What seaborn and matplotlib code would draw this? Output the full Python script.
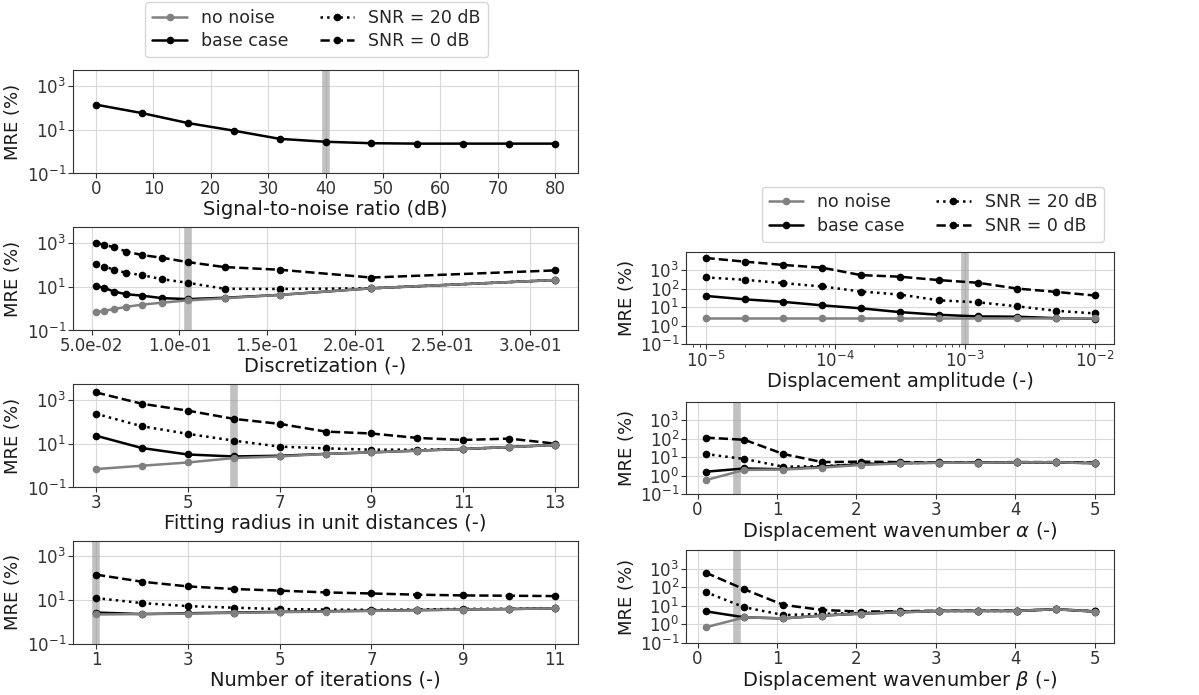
import numpy as np
import matplotlib
matplotlib.use("Agg")
import matplotlib.pyplot as plt
import seaborn as sns
from matplotlib.ticker import FixedLocator, NullLocator, LogFormatterSciNotation, FormatStrFormatter, LogLocator

# ---------------- data ----------------
series_labels = ["no noise", "base case", "SNR = 20 dB", "SNR = 0 dB"]

snr_x = [0, 8, 16, 24, 32, 40, 48, 56, 64, 72, 80]
snr_base = [138, 57, 20, 9.0, 3.8, 2.8, 2.4, 2.3, 2.3, 2.3, 2.3]
snr_ref = 40

disc_x = [0.0524, 0.0571, 0.0628, 0.0698, 0.0785, 0.0898, 0.1047, 0.1257, 0.1571, 0.2094, 0.3142]
disc_snr0 = [1000, 810, 620, 400, 277, 209, 132, 78, 59, 26, 55]
disc_snr20 = [110, 82, 60, 42, 34, 22, 15, 8.0, 7.8, 8.4, 20]
disc_base = [10.7, 8.8, 5.9, 4.5, 3.9, 3.0, 2.7, 3.1, 4.2, 8.4, 20]
disc_none = [0.67, 0.79, 0.95, 1.2, 1.5, 1.85, 2.35, 2.95, 4.2, 8.4, 20]
disc_ref = 0.1047

fit_x = [3, 4, 5, 6, 7, 8, 9, 10, 11, 12, 13]
fit_snr0 = [2170, 660, 320, 135, 80, 35.5, 29, 18.2, 14.7, 17, 10]
fit_snr20 = [230, 62, 28, 13.7, 7.3, 6.1, 5.3, 5.3, 5.6, 7.0, 8.7]
fit_base = [23, 6.3, 3.2, 2.6, 2.8, 3.4, 4.0, 4.8, 5.7, 7.0, 8.7]
fit_none = [0.69, 0.98, 1.38, 2.2, 2.6, 3.4, 4.0, 4.8, 5.7, 7.0, 8.7]
fit_ref = 6

it_x = [1, 2, 3, 4, 5, 6, 7, 8, 9, 10, 11]
it_snr0 = [145, 69, 42, 32, 27, 22.4, 20, 17.6, 16.3, 15.8, 15.2]
it_snr20 = [12.4, 7.3, 5.3, 4.5, 3.9, 3.7, 3.6, 3.7, 4.0, 4.0, 4.3]
it_base = [2.7, 2.3, 2.5, 2.7, 2.9, 3.1, 3.3, 3.5, 3.7, 3.9, 4.2]
it_none = [2.2, 2.3, 2.4, 2.6, 2.8, 3.0, 3.2, 3.4, 3.7, 3.9, 4.2]
it_ref = 1

amp_x = [1e-5, 2e-5, 3.98e-5, 7.94e-5, 1.58e-4, 3.16e-4, 6.31e-4, 1.26e-3, 2.51e-3, 5.01e-3, 1e-2]
amp_snr0 = [4500, 2840, 1880, 1340, 530, 435, 285, 205, 100, 66, 42]
amp_snr20 = [400, 297, 195, 129, 69, 47, 23, 18, 11, 6.3, 4.5]
amp_base = [40, 26, 19, 12.3, 8.5, 5.3, 3.8, 3.1, 3.0, 2.5, 2.3]
amp_none = [2.4, 2.4, 2.4, 2.4, 2.4, 2.4, 2.4, 2.4, 2.4, 2.4, 2.4]
amp_ref = 1e-3

wn_x = [0.1, 0.59, 1.08, 1.57, 2.06, 2.55, 3.04, 3.53, 4.02, 4.51, 5.0]
alpha_snr0 = [112, 85, 14.5, 5.3, 5.6, 5.3, 5.1, 5.1, 5.3, 5.3, 4.9]
alpha_snr20 = [14.5, 7.8, 3.0, 3.2, 4.1, 4.7, 4.9, 4.9, 5.1, 5.1, 4.7]
alpha_base = [1.6, 2.4, 2.2, 3.0, 4.1, 4.7, 4.9, 4.9, 5.1, 5.1, 4.7]
alpha_none = [0.56, 2.0, 2.1, 2.7, 3.7, 4.5, 4.9, 4.9, 5.1, 5.2, 4.5]
alpha_ref = 0.5

beta_snr0 = [630, 78, 11.3, 6.0, 4.9, 5.1, 5.5, 5.5, 5.5, 6.6, 5.1]
beta_snr20 = [56, 8.4, 3.2, 3.7, 4.1, 4.9, 5.3, 5.3, 5.3, 6.6, 5.1]
beta_base = [5.1, 2.4, 2.1, 3.0, 3.8, 4.5, 5.3, 5.3, 5.3, 6.6, 4.9]
beta_none = [0.69, 2.4, 2.1, 3.0, 3.8, 4.5, 5.3, 5.3, 5.3, 6.6, 4.9]
beta_ref = 0.5

# ---------------- style ----------------
sns.set_style("whitegrid", rc={
    "axes.edgecolor": "0.2",
    "axes.linewidth": 1.0,
    "grid.color": "0.85",
    "grid.linewidth": 0.9,
    "xtick.bottom": True,
    "ytick.left": True,
    "xtick.color": "0.2",
    "ytick.color": "0.2",
    "xtick.major.size": 3,
    "ytick.major.size": 3,
    "xtick.minor.size": 2,
})
plt.rcParams["font.family"] = ["DejaVu Sans"]

TICK_FS = 12
XLABEL_FS = 14
YLABEL_FS = 13
LEG_FS = 12.5

styles = {
    "SNR = 0 dB": dict(color="black", linestyle="--"),
    "SNR = 20 dB": dict(color="black", linestyle=":"),
    "base case": dict(color="black", linestyle="-"),
    "no noise": dict(color="grey", linestyle="-"),
}

fig = plt.figure(figsize=(11.99, 6.95), dpi=100)

LX, LW = 0.0609, 0.4212
RX, RW = 0.5722, 0.3570
LH, RH = 0.1482, 0.1331

handles = {}


def draw(ax, x, data, ref, xlabel, left=True, logx=False):
    ax.axvline(ref, color="0.6", alpha=0.6, lw=5.5, zorder=1)
    for name in ["SNR = 0 dB", "SNR = 20 dB", "base case", "no noise"]:
        if name not in data:
            continue
        st = styles[name]
        sns.lineplot(x=x, y=data[name], ax=ax, color=st["color"], linestyle=st["linestyle"],
                     marker="o", markersize=5.5, markeredgewidth=0, lw=1.8, zorder=3)
        handles[name] = ax.lines[-1]
    ax.set_yscale("log")
    if logx:
        ax.set_xscale("log")
        ax.xaxis.set_major_locator(FixedLocator([1e-5, 1e-4, 1e-3, 1e-2]))
        ax.xaxis.set_minor_locator(LogLocator(base=10, subs=np.arange(2, 10)))
        ax.tick_params(axis="x", which="minor", bottom=True, length=2, color="0.2")
        ax.grid(False, which="minor")
    if left:
        ax.set_ylim(0.1, 5000)
        ax.yaxis.set_major_locator(FixedLocator([0.1, 10, 1000]))
    else:
        ax.set_ylim(0.1, 10000)
        ax.yaxis.set_major_locator(FixedLocator([0.1, 1, 10, 100, 1000]))
    ax.yaxis.set_major_formatter(LogFormatterSciNotation())
    ax.yaxis.set_minor_locator(NullLocator())
    ax.set_xlabel(xlabel, fontsize=XLABEL_FS, color="0.1", labelpad=1)
    ax.set_ylabel("MRE (%)", fontsize=YLABEL_FS, color="0.1", labelpad=3)
    ax.tick_params(labelsize=TICK_FS, pad=1.5)


ax1 = fig.add_axes([LX, 0.7504, LW, LH])
draw(ax1, snr_x, {"base case": snr_base}, snr_ref, "Signal-to-noise ratio (dB)")
ax1.xaxis.set_major_locator(FixedLocator([0, 10, 20, 30, 40, 50, 60, 70, 80]))

ax2 = fig.add_axes([LX, 0.5245, LW, LH])
draw(ax2, disc_x, {"SNR = 0 dB": disc_snr0, "SNR = 20 dB": disc_snr20,
                   "base case": disc_base, "no noise": disc_none}, disc_ref, "Discretization (-)")
ax2.xaxis.set_major_locator(FixedLocator([0.05, 0.10, 0.15, 0.20, 0.25, 0.30]))
ax2.xaxis.set_major_formatter(FormatStrFormatter("%.1e"))
h_all = dict(handles)

ax3 = fig.add_axes([LX, 0.2986, LW, LH])
draw(ax3, fit_x, {"SNR = 0 dB": fit_snr0, "SNR = 20 dB": fit_snr20,
                  "base case": fit_base, "no noise": fit_none}, fit_ref, "Fitting radius in unit distances (-)")
ax3.xaxis.set_major_locator(FixedLocator([3, 5, 7, 9, 11, 13]))

ax4 = fig.add_axes([LX, 0.0735, LW, LH])
draw(ax4, it_x, {"SNR = 0 dB": it_snr0, "SNR = 20 dB": it_snr20,
                 "base case": it_base, "no noise": it_none}, it_ref, "Number of iterations (-)")
ax4.xaxis.set_major_locator(FixedLocator([1, 3, 5, 7, 9, 11]))

ax5 = fig.add_axes([RX, 0.5050, RW, RH])
draw(ax5, amp_x, {"SNR = 0 dB": amp_snr0, "SNR = 20 dB": amp_snr20,
                  "base case": amp_base, "no noise": amp_none}, amp_ref, "Displacement amplitude (-)",
     left=False, logx=True)

ax6 = fig.add_axes([RX, 0.2892, RW, RH])
draw(ax6, wn_x, {"SNR = 0 dB": alpha_snr0, "SNR = 20 dB": alpha_snr20,
                 "base case": alpha_base, "no noise": alpha_none}, alpha_ref,
     r"Displacement wavenumber $\alpha$ (-)", left=False)
ax6.xaxis.set_major_locator(FixedLocator([0, 1, 2, 3, 4, 5]))

ax7 = fig.add_axes([RX, 0.0750, RW, RH])
draw(ax7, wn_x, {"SNR = 0 dB": beta_snr0, "SNR = 20 dB": beta_snr20,
                 "base case": beta_base, "no noise": beta_none}, beta_ref,
     r"Displacement wavenumber $\beta$ (-)", left=False)
ax7.xaxis.set_major_locator(FixedLocator([0, 1, 2, 3, 4, 5]))

order = ["no noise", "base case", "SNR = 20 dB", "SNR = 0 dB"]
hl = [h_all[k] for k in order]
for (cx, cy) in [(0.264, 0.957), (0.778, 0.692)]:
    fig.legend(hl, order, loc="center", bbox_to_anchor=(cx, cy), ncol=2,
               fontsize=LEG_FS, frameon=True, edgecolor="0.8", handlelength=2.0,
               columnspacing=1.8, borderpad=0.4, labelspacing=0.3)

fig.savefig("out.png", dpi=100)
